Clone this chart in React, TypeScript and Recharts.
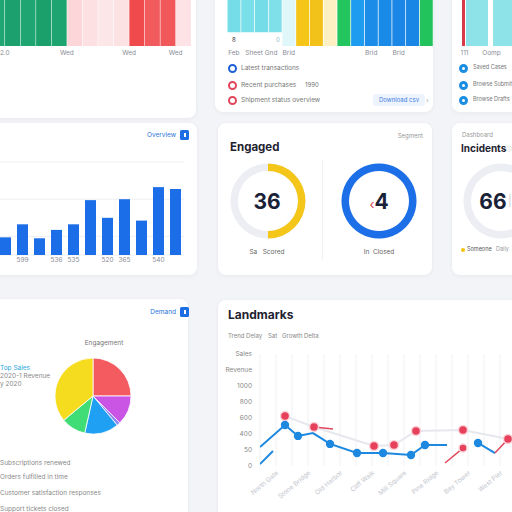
import React from 'react'
import {
  BarChart,
  Bar,
  XAxis,
  YAxis,
  CartesianGrid,
  Cell,
  PieChart,
  Pie,
  LineChart,
  Line,
} from 'recharts'

const FONT = 'Inter, "Noto Sans", Arial, sans-serif'

// activity strip, top left
const stripDays = ['2.0', '', '', '', 'Wed', '', '', '', 'Wed', '', '', 'Wed', '']
const stripLoad = [100, 100, 100, 100, 100, 100, 100, 100, 100, 100, 100, 100, 100]
const stripColors = [
  '#1fa673', '#1ca16e', '#1fa572', '#1b9f6b', '#1ea470',
  '#fcd6d9', '#fde0e2', '#fde6e8', '#fde2e4',
  '#f04a4d', '#f25b5d', '#f1585a', '#fde3e5',
]

// channel strip, top middle
const channelNames = ['Feb', '', 'Sheet Gnd', '', 'Brid', '', '', '', '', '', 'Brid', '', 'Brid', '', '']
const channelLow = [16, 16, 16, 16, 0, 0, 0, 0, 0, 0, 0, 0, 0, 0, 0]
const channelHigh = [100, 100, 100, 100, 100, 100, 100, 100, 100, 100, 100, 100, 100, 100, 100]
const channelColors = [
  '#74dde8', '#79dfe9', '#74dce7', '#80e0ea', '#dff7f9',
  '#f5c518', '#f3c21a', '#fdf1c4', '#22c55e',
  '#1e9cf0', '#1b8de9', '#1a8ae8', '#1a87e6', '#1985e5', '#22c35c',
]

// stream strip, top right
const streamNames = ['111', 'Oomp', '']
const streamAlert = [100, 0, 0]
const streamBase = [100, 100, 100]

// overview bars
const overviewLabels = ['', '599', '', '536', '535', '', '520', '365', '', '540', '']
const overviewValues = [19, 33, 18, 27, 33, 59, 40, 60, 37, 73, 71]

// gauges
const engagedValue = 36
const engagedMax = 72
const closedValue = 4
const closedMax = 4
const incidentsCount = 66

// engagement pie
const segmentNames = ['Direct', 'Social', 'Partner', 'Search', 'Email', 'Organic']
const segmentShares = [25, 12.5, 1.5, 14.5, 10.5, 36]
const segmentColors = ['#f35b60', '#ca55e4', '#8f86f2', '#1fa0f2', '#40dc75', '#f5dc1e']

// landmarks line chart
const placeLabels = ['', 'North Gate', '', 'Stone Bridge', '', 'Old Harbor', '', 'Cliff Walk', '', 'Mill Square', '', 'Pine Ridge', '', 'Bay Tower', '', 'West Pier', '']
const placeTicks = [0, 4, 8, 12, 16, 20, 24, 28, 32, 36, 40, 44, 48, 52, 56, 60, 64]
const levelLabels = ['0', '50', '400', '600', '800', '1000', 'Revenue', 'Sales']
const levelTicks = [0, 100, 200, 300, 400, 500, 600, 700]

const trendX = [0, 6.25, 9.5, 13.25, 17.5, 24.25, 30.75, 37.75, 41.25, 46.75, 50, 54.5, 58.75]
const trendY = [119, 256, 188, 206, 138, 81, 81, 69, 131, 131, null, 144, 81]
const trendMarked = [false, true, true, false, true, true, true, true, true, false, false, true, false]

const earlyX = [0, 3.25]
const earlyY = [12, 94]

const targetX = [6.25, 13.5, 28.5, 33.5, 39, 50.75, 62]
const targetY = [312, 244, 125, 131, 219, 225, 169]

const deltaX = [13.5, 18.25, 20, 46.25, 50.75, 52, 58.75, 62]
const deltaY = [244, 231, null, 19, 112, null, 81, 169]
const deltaMarked = [false, false, false, false, true, false, false, false]

const stripData = stripDays.map((name, i) => ({ slot: i, name, load: stripLoad[i] }))
const channelData = channelNames.map((name, i) => ({ slot: i, name, low: channelLow[i], high: channelHigh[i] }))
const streamData = streamNames.map((name, i) => ({ slot: i, name, alert: streamAlert[i], base: streamBase[i] }))
const overviewData = overviewValues.map((v, i) => ({ slot: i, label: overviewLabels[i], value: v }))
const segmentData = segmentNames.map((name, i) => ({ name, value: segmentShares[i] }))
const trend = trendX.map((x, i) => ({ x, y: trendY[i] }))
const early = earlyX.map((x, i) => ({ x, y: earlyY[i] }))
const targets = targetX.map((x, i) => ({ x, y: targetY[i] }))
const deltas = deltaX.map((x, i) => ({ x, y: deltaY[i] }))

type TxtProps = {
  x: number
  y: number
  size?: number
  color?: string
  weight?: number
  align?: 'left' | 'right' | 'center'
  children: React.ReactNode
}

// text placed by its vertical centre; x is left, right or centre edge
function Txt({ x, y, size = 6.5, color = '#777', weight = 400, align = 'left', children }: TxtProps) {
  const shift = align === 'left' ? '0' : align === 'right' ? '-100%' : '-50%'
  return (
    <div
      style={{
        position: 'absolute',
        left: x,
        top: y,
        transform: `translate(${shift}, -50%)`,
        fontSize: size,
        color,
        fontWeight: weight,
        lineHeight: 1,
        whiteSpace: 'nowrap',
        fontFamily: FONT,
      }}
    >
      {children}
    </div>
  )
}

function Card({ x, y, w, h }: { x: number; y: number; w: number; h: number }) {
  return (
    <div
      style={{
        position: 'absolute',
        left: x,
        top: y,
        width: w,
        height: h,
        background: '#ffffff',
        borderRadius: 8,
        boxShadow: '0 1px 4px rgba(40, 50, 80, 0.06)',
      }}
    />
  )
}

function Box({ x, y, children }: { x: number; y: number; children: React.ReactNode }) {
  return <div style={{ position: 'absolute', left: x, top: y }}>{children}</div>
}

function Ring({ x, y, color, filled }: { x: number; y: number; color: string; filled?: boolean }) {
  return (
    <div
      style={{
        position: 'absolute',
        left: x - 4.5,
        top: y - 4.5,
        width: 9,
        height: 9,
        boxSizing: 'border-box',
        borderRadius: '50%',
        border: `${filled ? 3 : 2.2}px solid ${color}`,
        background: '#fff',
      }}
    />
  )
}

function IconButton({ x, y }: { x: number; y: number }) {
  return (
    <div
      style={{
        position: 'absolute',
        left: x,
        top: y,
        width: 9,
        height: 10,
        background: '#1d6de3',
        borderRadius: 1.5,
      }}
    >
      <div style={{ position: 'absolute', left: 4, top: 3, width: 1.5, height: 4, background: '#fff' }} />
    </div>
  )
}

const tickStyle = { fontSize: 6.5, fill: '#8a8d96', fontFamily: FONT }

function Gauge({ cx, cy, value, max, color }: { cx: number; cy: number; value?: number; max?: number; color?: string }) {
  const track = [{ name: 'track', value: 1 }]
  const filled = value != null && max != null
    ? [{ name: 'value', value }, { name: 'rest', value: max - value }]
    : []
  return (
    <Box x={cx - 40} y={cy - 40}>
      <PieChart width={80} height={80} margin={{ top: 0, right: 0, bottom: 0, left: 0 }}>
        <Pie data={track} dataKey="value" cx={40} cy={40} innerRadius={30} outerRadius={37.5}
          startAngle={90} endAngle={-270} fill="#eceef4" stroke="none" isAnimationActive={false} />
        {filled.length > 0 && (
          <Pie data={filled} dataKey="value" cx={40} cy={40} innerRadius={30} outerRadius={37.5}
            startAngle={90} endAngle={-270} stroke="none" isAnimationActive={false}>
            <Cell fill={color} />
            <Cell fill="transparent" />
          </Pie>
        )}
      </PieChart>
    </Box>
  )
}

const markDot = (marked: boolean[], fill: string, r: number, stroke = 'none') => (props: any) => {
  const { cx, cy, index } = props
  if (!marked[index] || cy == null || cx == null) return <g key={`dot-${index}`} />
  return <circle key={`dot-${index}`} cx={cx} cy={cy} r={r} fill={fill} stroke={stroke} strokeWidth={1.5} />
}

export default function App() {
  return (
    <div
      style={{
        position: 'fixed',
        left: 0,
        top: 0,
        width: 512,
        height: 512,
        overflow: 'hidden',
        background: '#f3f4f7',
        fontFamily: FONT,
      }}
    >
      {/* cards */}
      <Card x={-12} y={-20} w={208} h={138} />
      <Card x={215} y={-20} w={218} h={132} />
      <Card x={452} y={-20} w={80} h={132} />
      <Card x={-12} y={123} w={209} h={152} />
      <Card x={218} y={123} w={214} h={152} />
      <Card x={452} y={123} w={80} h={152} />
      <Card x={-12} y={299} w={200} h={230} />
      <Card x={218} y={300} w={310} h={230} />

      {/* activity strip */}
      <Box x={-11} y={-40}>
        <BarChart width={202} height={100} data={stripData} barCategoryGap={0.5}
          margin={{ top: 0, right: 0, bottom: 0, left: 0 }}>
          <XAxis dataKey="slot" tickFormatter={(i) => stripDays[i]} interval={0} tickLine={false}
            axisLine={false} tickSize={0} tickMargin={4} height={14} tick={{ ...tickStyle, dx: 8 }} />
          <YAxis hide domain={[0, 100]} />
          <Bar dataKey="load" isAnimationActive={false}>
            {stripData.map((d) => (
              <Cell key={d.slot} fill={stripColors[d.slot]} />
            ))}
          </Bar>
        </BarChart>
      </Box>

      {/* channel strip */}
      <Box x={227} y={-40}>
        <BarChart width={206} height={100} data={channelData} barCategoryGap={0.5}
          margin={{ top: 0, right: 0, bottom: 0, left: 0 }}>
          <XAxis dataKey="slot" tickFormatter={(i) => channelNames[i]} interval={0} tickLine={false}
            axisLine={false} tickSize={0} tickMargin={4} height={14} tick={tickStyle} />
          <YAxis hide domain={[0, 100]} />
          <Bar dataKey={(d: any) => [d.low, d.high]} isAnimationActive={false}>
            {channelData.map((d) => (
              <Cell key={d.slot} fill={channelColors[d.slot]} />
            ))}
          </Bar>
        </BarChart>
      </Box>
      <Txt x={232} y={40} size={6} color="#333">8</Txt>
      <Txt x={276} y={40} size={6} color="#8fb8c0">0</Txt>

      <Ring x={232} y={68} color="#1d5fd6" />
      <Txt x={241} y={68}>Latest transactions</Txt>
      <Ring x={232} y={85} color="#e2445c" />
      <Txt x={241} y={85}>Recent purchases</Txt>
      <Txt x={305} y={85} size={6}>1990</Txt>
      <Ring x={232} y={100} color="#e2445c" />
      <Txt x={241} y={100}>Shipment status overview</Txt>
      <div style={{ position: 'absolute', left: 373, top: 94, width: 52, height: 12, background: '#eef4fd', borderRadius: 3 }} />
      <Txt x={399} y={100} size={6} color="#3b7be0" align="center">Download csv</Txt>
      <Txt x={426} y={100} size={7} color="#aaa">›</Txt>

      {/* stream strip */}
      <Box x={461} y={-40}>
        <BarChart width={81} height={100} data={streamData} barCategoryGap={0.5} barGap={1}
          margin={{ top: 0, right: 0, bottom: 0, left: 0 }}>
          <XAxis dataKey="slot" tickFormatter={(i) => streamNames[i]} interval={0} tickLine={false}
            axisLine={false} tickSize={0} tickMargin={4} height={14} tick={{ ...tickStyle, dx: -10 }} />
          <YAxis hide domain={[0, 100]} />
          <Bar dataKey="alert" barSize={3} fill="#d83a47" isAnimationActive={false} />
          <Bar dataKey="base" barSize={22} fill="#8de3e7" isAnimationActive={false} />
        </BarChart>
      </Box>
      <Ring x={463} y={68} color="#1b8de2" filled />
      <Txt x={473} y={68} size={5.5}>Saved Cases</Txt>
      <Ring x={463} y={85} color="#1b8de2" filled />
      <Txt x={473} y={85} size={5.5}>Browse Submit</Txt>
      <Ring x={463} y={100} color="#1b8de2" filled />
      <Txt x={473} y={100} size={5.5}>Browse Drafts</Txt>

      {/* overview bars */}
      <Txt x={176} y={135} color="#2a73d8" align="right">Overview</Txt>
      <IconButton x={180} y={130} />
      <Box x={-3} y={160}>
        <BarChart width={195} height={109} data={overviewData} barCategoryGap={3}
          margin={{ top: 2, right: 8, bottom: 0, left: 0 }}>
          <CartesianGrid vertical={false} stroke="#eff0f4" />
          <XAxis dataKey="slot" tickFormatter={(i) => overviewLabels[i]} interval={0} tickLine={false}
            axisLine={false} tickSize={0} tickMargin={2} height={14} tick={tickStyle} />
          <YAxis hide domain={[0, 100]} ticks={[0, 20, 40, 60, 80, 100]} />
          <Bar dataKey="value" fill="#1b6ee8" isAnimationActive={false} />
        </BarChart>
      </Box>

      {/* engaged gauges */}
      <Txt x={230} y={148} size={11.5} weight={700} color="#1e2230">Engaged</Txt>
      <Txt x={423} y={136} size={6} color="#999" align="right">Segment</Txt>
      <div style={{ position: 'absolute', left: 322, top: 160, width: 1, height: 100, background: '#f1f2f5' }} />
      <Gauge cx={268} cy={201} value={engagedValue} max={engagedMax} color="#f4c61a" />
      <Txt x={267} y={201} size={21} weight={700} color="#1a2238" align="center">{engagedValue}</Txt>
      <Txt x={267} y={252} size={6.5} color="#666" align="center">Sa&nbsp;&nbsp;&nbsp;Scored</Txt>
      <Gauge cx={379} cy={201} value={closedValue} max={closedMax} color="#1c6fe6" />
      <Txt x={379} y={201} size={21} weight={700} color="#1a2238" align="center">
        <span style={{ color: '#d64552', fontSize: 13, fontWeight: 400 }}>‹</span>
        {closedValue}
      </Txt>
      <Txt x={379} y={252} size={6.5} color="#666" align="center">In&nbsp;&nbsp;Closed</Txt>

      {/* incidents */}
      <Txt x={462} y={135} size={6} color="#999">Dashboard</Txt>
      <Txt x={461} y={148} size={10} weight={700} color="#1e2230">Incidents</Txt>
      <Txt x={506} y={149} size={6} color="#bbb">ⓘ</Txt>
      <Gauge cx={501} cy={201} />
      <Txt x={493} y={201} size={21} weight={700} color="#1a2238" align="center">{incidentsCount}</Txt>
      <Txt x={508} y={201} size={11} color="#ccc">|</Txt>
      <div style={{ position: 'absolute', left: 461, top: 248, width: 4, height: 4, borderRadius: '50%', background: '#f2c200' }} />
      <Txt x={467} y={250} size={5.5} color="#555">Someone</Txt>
      <Txt x={496} y={250} size={5.5} color="#999">Daily</Txt>

      {/* engagement pie */}
      <Txt x={176} y={312} color="#2a73d8" align="right">Demand</Txt>
      <IconButton x={180} y={307} />
      <Txt x={104} y={343} size={6.5} color="#777" align="center">Engagement</Txt>
      <Box x={43} y={346}>
        <PieChart width={100} height={100} margin={{ top: 0, right: 0, bottom: 0, left: 0 }}>
          <Pie data={segmentData} dataKey="value" cx={50} cy={50} outerRadius={38}
            startAngle={90} endAngle={-270} stroke="#ffffff" strokeWidth={0.8} isAnimationActive={false}>
            {segmentData.map((d, i) => (
              <Cell key={d.name} fill={segmentColors[i]} />
            ))}
          </Pie>
        </PieChart>
      </Box>
      <Txt x={0} y={368} size={6.5} color="#2aa8e0">Top Sales</Txt>
      <Txt x={0} y={376} size={6.5} color="#888">2020-1 Revenue</Txt>
      <Txt x={0} y={384} size={6.5} color="#888">y 2020</Txt>
      <Txt x={0} y={463} size={6.5} color="#888">Subscriptions renewed</Txt>
      <Txt x={0} y={477} size={6.5} color="#888">Orders fulfilled in time</Txt>
      <Txt x={0} y={493} size={6.5} color="#888">Customer satisfaction responses</Txt>
      <Txt x={0} y={509} size={6.5} color="#888">Support tickets closed</Txt>

      {/* landmarks */}
      <Txt x={228} y={315} size={12} weight={700} color="#1e2230">Landmarks</Txt>
      <Txt x={228} y={336} size={6} color="#888">Trend Delay</Txt>
      <Txt x={268} y={336} size={6} color="#888">Sat</Txt>
      <Txt x={282} y={336} size={6} color="#888">Growth</Txt>
      <Txt x={304} y={336} size={6} color="#888">Delta</Txt>
      <Box x={218} y={348}>
        <LineChart width={298} height={158} margin={{ top: 6, right: 0, bottom: 0, left: 0 }}>
          <CartesianGrid horizontal={false} stroke="#f0f1f4" />
          <XAxis type="number" dataKey="x" domain={[0, 64]} ticks={placeTicks} interval={0}
            tickFormatter={(v) => placeLabels[v / 4]} angle={-40} textAnchor="end" tickLine={false}
            axisLine={false} tickSize={0} tickMargin={4} height={40} allowDataOverflow
            tick={{ fontSize: 6.5, fill: '#c3c6ce', fontFamily: FONT }} />
          <YAxis type="number" domain={[0, 700]} ticks={levelTicks} interval={0}
            tickFormatter={(v) => levelLabels[v / 100]} width={42} tickLine={false} axisLine={false}
            tick={{ fontSize: 6.5, fill: '#888', fontFamily: FONT }} />
          <Line data={targets} dataKey="y" stroke="#e6e8ee" strokeWidth={2}
            dot={{ r: 4.5, fill: '#e6405a', stroke: '#fbd3d9', strokeWidth: 1.5 }} isAnimationActive={false} />
          <Line data={early} dataKey="y" stroke="#1d88df" strokeWidth={2} dot={false} isAnimationActive={false} />
          <Line data={trend} dataKey="y" stroke="#1d88df" strokeWidth={2}
            dot={markDot(trendMarked, '#1d88df', 4.2)} isAnimationActive={false} />
          <Line data={deltas} dataKey="y" stroke="#e0485c" strokeWidth={1.5}
            dot={markDot(deltaMarked, '#e6405a', 4, '#fbd3d9')} isAnimationActive={false} />
        </LineChart>
      </Box>
    </div>
  )
}
